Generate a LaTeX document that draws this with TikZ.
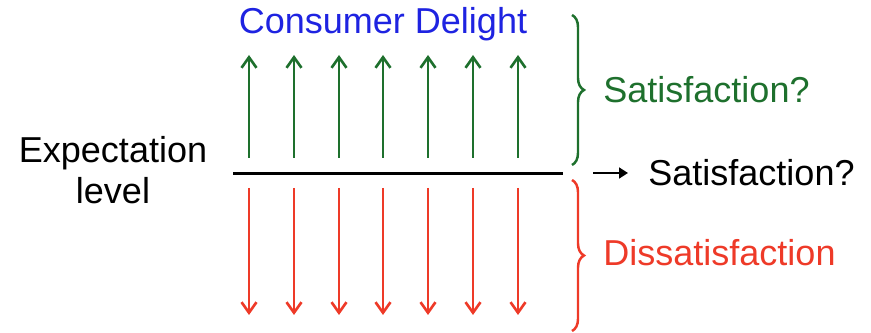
\documentclass[tikz,border=0pt]{standalone}
\usepackage{fontspec}
\setmainfont{Liberation Sans}
\usetikzlibrary{arrows.meta,decorations.pathreplacing}
\definecolor{delightblue}{RGB}{30,35,225}
\definecolor{satgreen}{RGB}{30,112,45}
\definecolor{dissred}{RGB}{238,58,40}
\tikzset{
  label/.style={font=\fontsize{20.5}{23.5}\selectfont, inner sep=0pt},
  uparrow/.style={-{Straight Barb[length=6pt,width=8.5pt]}, satgreen, line width=1.5pt},
  downarrow/.style={-{Straight Barb[length=6pt,width=8.5pt]}, dissred, line width=1.5pt},
  bracket/.style={decorate, decoration={brace, amplitude=0.24cm}, line width=1.4pt},
}
\begin{document}
\begin{tikzpicture}[x=0.02cm,y=-0.02cm]
  \useasboundingbox (0,0) rectangle (871,333);
  % expectation level
  \node[label, align=center] (level) at (113,170) {Expectation\\level};
  \coordinate (lineL) at (233,173.5);
  \coordinate (lineR) at (563,173.5);
  \draw[line width=2pt] (lineL) -- (lineR);
  % arrows above and below the line
  \foreach \i/\x in {1/249,2/294,3/339,4/383,5/428,6/473,7/518} {
    \coordinate (gb\i) at (\x,158);
    \coordinate (gt\i) at (\x,55);
    \coordinate (rt\i) at (\x,188);
    \coordinate (rb\i) at (\x,315);
    \draw[uparrow] (gb\i) -- (gt\i);
    \draw[downarrow] (rt\i) -- (rb\i);
  }
  \node[label, text=delightblue] (delight) at (383,24) {Consumer Delight};
  % braces
  \coordinate (gbrTop) at (572,15);
  \coordinate (gbrBot) at (572,165);
  \coordinate (rbrTop) at (572,180);
  \coordinate (rbrBot) at (572,331);
  \draw[bracket, satgreen] (gbrTop) -- (gbrBot);
  \draw[bracket, dissred] (rbrTop) -- (rbrBot);
  \node[label, text=satgreen, anchor=west] (satup) at (603,90) {Satisfaction?};
  \node[label, text=dissred, anchor=west] (diss) at (603,253) {Dissatisfaction};
  % neutral outcome
  \node[label, anchor=west] (satmid) at (648,173) {Satisfaction?};
  \coordinate (arrstart) at (593,173);
  \draw[-{Triangle[length=5pt,width=6pt]}, line width=1.4pt, shorten >=0.4cm] (arrstart) -- (satmid.west);
\end{tikzpicture}
\end{document}
